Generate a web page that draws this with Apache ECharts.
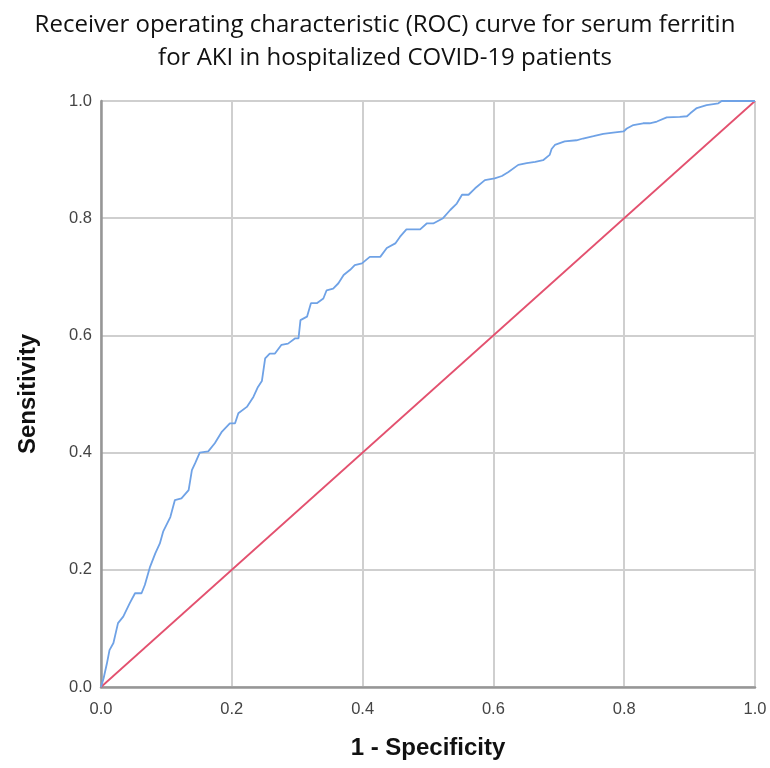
<!DOCTYPE html>
<html>
<head>
<meta charset="utf-8">
<script src="https://cdn.jsdelivr.net/npm/echarts@6/dist/echarts.min.js"></script>
<style>
  html, body { margin: 0; padding: 0; background: #fff; }
  #chart { width: 770px; height: 768px; }
</style>
</head>
<body>
<div id="chart"></div>
<script>
// ROC curve points: [1 - specificity, sensitivity]
const rocFpr = [
  0, 0.004, 0.009, 0.013, 0.019, 0.026, 0.034, 0.044, 0.052, 0.062, 0.067, 0.075, 0.083, 0.09, 0.095,
  0.106, 0.113, 0.123, 0.134, 0.139, 0.144, 0.151, 0.164, 0.174, 0.185, 0.197, 0.205, 0.21, 0.223,
  0.233, 0.24, 0.246, 0.251, 0.258, 0.266, 0.276, 0.286, 0.297, 0.302, 0.305, 0.315, 0.321, 0.33,
  0.34, 0.345, 0.355, 0.363, 0.371, 0.381, 0.388, 0.399, 0.411, 0.427, 0.437, 0.45, 0.457, 0.467,
  0.488, 0.498, 0.508, 0.523, 0.534, 0.544, 0.552, 0.562, 0.572, 0.587, 0.602, 0.613, 0.623, 0.638,
  0.651, 0.664, 0.676, 0.686, 0.689, 0.694, 0.709, 0.727, 0.737, 0.753, 0.768, 0.783, 0.799, 0.804,
  0.814, 0.829, 0.839, 0.85, 0.865, 0.885, 0.896, 0.901, 0.911, 0.926, 0.944, 0.949, 1.0
]
const rocTpr = [
  0, 0.015, 0.04, 0.063, 0.075, 0.109, 0.12, 0.143, 0.16, 0.16, 0.174, 0.205, 0.228, 0.245, 0.265,
  0.29, 0.319, 0.322, 0.336, 0.37, 0.382, 0.4, 0.402, 0.416, 0.436, 0.45, 0.45, 0.467, 0.478,
  0.495, 0.512, 0.522, 0.561, 0.569, 0.569, 0.584, 0.586, 0.595, 0.595, 0.626, 0.632, 0.655, 0.655,
  0.663, 0.677, 0.68, 0.689, 0.703, 0.712, 0.72, 0.723, 0.734, 0.734, 0.749, 0.757, 0.768, 0.781,
  0.781, 0.791, 0.791, 0.8, 0.814, 0.825, 0.84, 0.84, 0.851, 0.865, 0.868, 0.872, 0.879, 0.891,
  0.894, 0.896, 0.899, 0.908, 0.918, 0.925, 0.931, 0.933, 0.936, 0.94, 0.944, 0.946, 0.948, 0.953,
  0.959, 0.962, 0.962, 0.965, 0.972, 0.973, 0.974, 0.979, 0.988, 0.993, 0.996, 1.0, 1.0
]
const refLine = [[0, 0], [1, 1]]
const tickLabels = ['0.0', '0.2', '0.4', '0.6', '0.8', '1.0']

const titleText = 'Receiver operating characteristic (ROC) curve for serum ferritin\nfor AKI in hospitalized COVID-19 patients'

const chart = echarts.init(document.getElementById('chart'))

const axisCommon = {
  type: 'value',
  min: 0,
  max: 1,
  interval: 0.2,
  axisLine: { show: true, lineStyle: { color: '#969696', width: 2.5 } },
  axisTick: { show: false },
  splitLine: { show: true, lineStyle: { color: '#cfcfcf', width: 2 } },
  axisLabel: {
    color: '#444',
    fontFamily: 'Liberation Sans',
    fontSize: 16.5,
    formatter: v => tickLabels[Math.round(v / 0.2)]
  },
  nameLocation: 'middle',
  nameTextStyle: {
    color: '#111',
    fontFamily: 'Liberation Sans',
    fontWeight: 'bold',
    fontSize: 24
  }
}

chart.setOption({
  animation: false,
  title: {
    text: titleText,
    left: 'center',
    top: 4,
    textStyle: {
      fontFamily: 'Open Sans',
      fontWeight: 'normal',
      fontSize: 24,
      lineHeight: 33,
      color: '#111'
    }
  },
  grid: { left: 101, top: 101, width: 654, height: 586, outerBoundsMode: 'none' },
  xAxis: Object.assign({}, axisCommon, {
    name: '1 - Specificity',
    nameGap: 49,
    axisLabel: Object.assign({}, axisCommon.axisLabel, { margin: 14 })
  }),
  yAxis: Object.assign({}, axisCommon, {
    name: 'Sensitivity',
    nameGap: 61,
    axisLabel: Object.assign({}, axisCommon.axisLabel, { margin: 9 })
  }),
  series: [
    {
      type: 'line',
      data: refLine,
      symbol: 'none',
      lineStyle: { color: '#e3516f', width: 1.8 },
      z: 2
    },
    {
      type: 'line',
      data: rocFpr.map((x, i) => [x, rocTpr[i]]),
      symbol: 'none',
      lineStyle: { color: '#6fa2e6', width: 1.8 },
      z: 3
    }
  ]
})
</script>
</body>
</html>
